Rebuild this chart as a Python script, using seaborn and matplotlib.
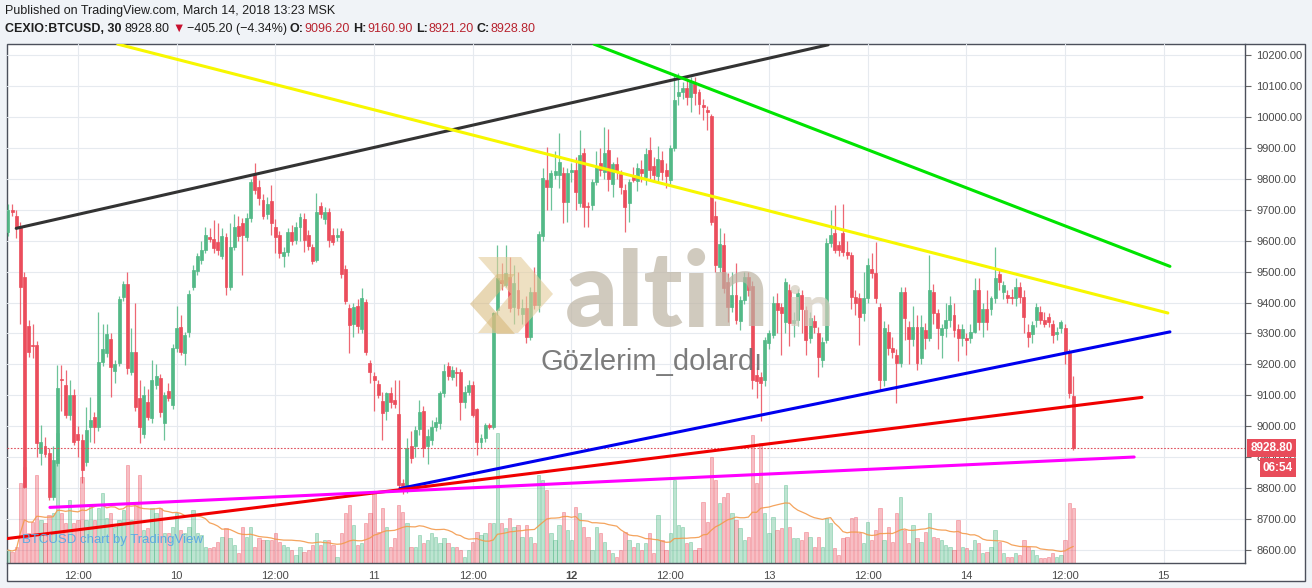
import numpy as np
import pandas as pd
import matplotlib
matplotlib.use("Agg")
import matplotlib.pyplot as plt
import matplotlib.transforms as mtransforms
from matplotlib.patches import Rectangle, Polygon
import seaborn as sns

# ---------------------------------------------------------------- data
start_time = "2018-03-09 03:30"   # first 30-min candle (MSK)

opens = [
    9629, 9701, 9680, 9645, 9483, 9324, 9262, 9262, 8912, 8936,
    8912, 8771, 8880, 9154, 9133, 9036, 9100, 8974, 8955, 8885,
    8998, 9028, 8998, 9208, 9235, 9281, 9179, 9205, 9417, 9460,
    9176, 9239, 9090, 8976, 9079, 9026, 9133, 9156, 9011, 9113,
    9068, 9252, 9322, 9237, 9303, 9451, 9503, 9537, 9570, 9612,
    9605, 9595, 9550, 9612, 9450, 9580, 9648, 9657, 9611, 9673,
    9815, 9775, 9733, 9686, 9729, 9645, 9618, 9550, 9564, 9629,
    9602, 9645, 9669, 9618, 9580, 9537, 9712, 9669, 9694, 9618,
    9613, 9631, 9507, 9381, 9332, 9388, 9313, 9401, 9205, 9162,
    9136, 9082, 9050, 9108, 9084, 9038, 8817, 8806, 8937, 8935,
    8990, 9049, 8935, 8955, 8998, 9011, 9106, 9196, 9160, 9176,
    9176, 9079, 9111, 9133, 9054, 8950, 8960, 9004, 8998, 9375,
    9473, 9457, 9484, 9387, 9440, 9363, 9381, 9289, 9435, 9392,
    9614, 9796, 9773, 9813, 9813, 9818, 9726, 9821, 9829, 9721,
    9883, 9712, 9715, 9791, 9852, 9823, 9893, 9783, 9848, 9816,
    9764, 9723, 9812, 9794, 9831, 9807, 9893, 9842, 9809, 9861,
    9829, 9796, 9899, 10068, 10080, 10093, 10064, 10109, 10080, 10040,
    10023, 10003, 9680, 9516, 9586, 9467, 9386, 9424, 9341, 9408,
    9484, 9455, 9165, 9160, 9148, 9268, 9295, 9397, 9386, 9338,
    9440, 9335, 9343, 9424, 9375, 9285, 9340, 9300, 9214, 9278,
    9591, 9624, 9586, 9624, 9564, 9554, 9419, 9413, 9365, 9413,
    9510, 9494, 9386, 9149, 9305, 9252, 9230, 9203, 9435, 9322,
    9281, 9322, 9219, 9311, 9286, 9435, 9367, 9295, 9316, 9343,
    9359, 9313, 9284, 9284, 9284, 9305, 9440, 9338, 9378, 9378,
    9413, 9491, 9435, 9424, 9418, 9413, 9451, 9419, 9305, 9298,
    9343, 9370, 9343, 9352, 9332, 9298, 9316, 9316, 9235, 9096.2,
]
highs = [
    9720, 9720, 9700, 9660, 9500, 9343, 9330, 9275, 9003, 8965,
    8930, 8935, 9198, 9198, 9180, 9150, 9120, 9000, 8975, 9063,
    9095, 9045, 9370, 9330, 9332, 9300, 9215, 9420, 9470, 9500,
    9316, 9397, 9150, 9130, 9120, 9215, 9200, 9170, 9110, 9140,
    9265, 9390, 9360, 9305, 9440, 9520, 9560, 9600, 9645, 9640,
    9667, 9656, 9640, 9625, 9656, 9688, 9680, 9675, 9690, 9800,
    9850, 9796, 9750, 9740, 9780, 9669, 9630, 9580, 9640, 9650,
    9660, 9690, 9690, 9635, 9590, 9753, 9726, 9710, 9705, 9640,
    9640, 9640, 9520, 9395, 9400, 9410, 9446, 9410, 9215, 9175,
    9150, 9110, 9110, 9125, 9149, 9149, 8830, 8960, 8985, 9000,
    9084, 9065, 8990, 9020, 9030, 9115, 9200, 9208, 9195, 9190,
    9185, 9130, 9150, 9145, 9060, 8975, 9010, 9010, 9370, 9586,
    9527, 9586, 9548, 9520, 9500, 9410, 9420, 9450, 9515, 9630,
    9835, 9904, 9830, 9890, 9947, 9840, 9835, 9850, 9870, 9958,
    9900, 9725, 9800, 9890, 9900, 9969, 9960, 9855, 9870, 9830,
    9785, 9800, 9840, 9850, 9860, 9900, 9937, 9870, 9905, 9890,
    9850, 9910, 10136, 10142, 10115, 10125, 10130, 10130, 10090, 10060,
    10035, 10010, 9730, 9640, 9624, 9494, 9500, 9527, 9420, 9500,
    9500, 9470, 9190, 9175, 9290, 9310, 9420, 9430, 9400, 9480,
    9460, 9370, 9445, 9440, 9390, 9370, 9360, 9320, 9290, 9610,
    9700, 9715, 9600, 9720, 9600, 9565, 9440, 9430, 9500, 9545,
    9560, 9597, 9400, 9340, 9330, 9290, 9250, 9450, 9450, 9340,
    9390, 9360, 9360, 9335, 9554, 9460, 9380, 9330, 9400, 9420,
    9400, 9330, 9330, 9300, 9330, 9480, 9480, 9400, 9440, 9420,
    9580, 9510, 9470, 9440, 9445, 9480, 9465, 9440, 9330, 9340,
    9400, 9390, 9370, 9365, 9345, 9320, 9345, 9330, 9250, 9160.9,
]
lows = [
    9615, 9680, 9608, 9332, 8800, 9225, 9220, 8901, 8874, 8900,
    8760, 8760, 8870, 9050, 9025, 9020, 8940, 8900, 8815, 8870,
    8950, 8945, 8985, 9195, 9225, 9095, 9140, 9195, 9405, 9170,
    9165, 9050, 8945, 8960, 9020, 9010, 9120, 9030, 8955, 9080,
    9055, 9240, 9230, 9198, 9290, 9440, 9490, 9525, 9560, 9595,
    9560, 9555, 9540, 9424, 9440, 9570, 9600, 9490, 9600, 9660,
    9750, 9715, 9670, 9670, 9618, 9559, 9545, 9516, 9550, 9585,
    9590, 9600, 9564, 9570, 9525, 9530, 9675, 9655, 9580, 9585,
    9600, 9480, 9395, 9235, 9290, 9300, 9300, 9230, 9140, 9050,
    9090, 8955, 9020, 9060, 9060, 8800, 8780, 8782, 8880, 8900,
    8970, 8900, 8879, 8940, 8985, 8990, 9095, 9150, 9150, 9130,
    9020, 9060, 9100, 9030, 8906, 8930, 8950, 8990, 8990, 9360,
    9440, 9450, 9370, 9330, 9360, 9330, 9268, 9280, 9380, 9370,
    9600, 9700, 9700, 9800, 9770, 9656, 9660, 9790, 9700, 9710,
    9645, 9645, 9700, 9780, 9810, 9800, 9760, 9740, 9800, 9750,
    9629, 9660, 9790, 9760, 9790, 9780, 9800, 9790, 9790, 9795,
    9770, 9780, 9890, 10040, 10060, 10040, 10018, 10040, 10010, 9990,
    9958, 9650, 9500, 9500, 9430, 9338, 9370, 9330, 9310, 9395,
    9420, 9120, 9090, 9015, 9130, 9250, 9285, 9300, 9230, 9300,
    9260, 9290, 9325, 9300, 9230, 9270, 9300, 9160, 9190, 9270,
    9580, 9560, 9550, 9550, 9540, 9380, 9360, 9262, 9340, 9400,
    9480, 9400, 9117, 9130, 9230, 9220, 9074, 9190, 9280, 9200,
    9260, 9180, 9200, 9250, 9275, 9330, 9250, 9220, 9290, 9320,
    9290, 9210, 9260, 9230, 9270, 9300, 9310, 9290, 9310, 9360,
    9400, 9440, 9410, 9400, 9395, 9390, 9400, 9300, 9257, 9270,
    9320, 9330, 9320, 9320, 9270, 9280, 9300, 9200, 9090, 8921.2,
]
closes = [
    9699, 9692, 9645, 9451, 8804, 9241, 9258, 8944, 8949, 8910,
    8771, 8890, 9122, 9149, 9036, 9100, 8949, 8955, 8858, 8987,
    9020, 8998, 9208, 9248, 9298, 9190, 9201, 9411, 9460, 9187,
    9239, 9063, 8998, 9100, 9030, 9149, 9163, 9047, 9100, 9090,
    9252, 9316, 9241, 9295, 9426, 9505, 9550, 9570, 9618, 9605,
    9575, 9570, 9614, 9451, 9580, 9645, 9615, 9618, 9672, 9791,
    9764, 9737, 9680, 9720, 9656, 9613, 9559, 9564, 9629, 9599,
    9645, 9677, 9602, 9583, 9535, 9694, 9688, 9694, 9602, 9597,
    9620, 9491, 9406, 9327, 9386, 9324, 9416, 9241, 9176, 9149,
    9100, 9041, 9106, 9079, 9071, 8809, 8806, 8930, 8898, 8987,
    9047, 8928, 8968, 8998, 9014, 9106, 9179, 9162, 9181, 9171,
    9079, 9111, 9133, 9036, 8950, 8960, 9004, 8998, 9365, 9478,
    9464, 9494, 9381, 9462, 9381, 9381, 9289, 9435, 9392, 9622,
    9802, 9773, 9818, 9824, 9856, 9726, 9818, 9829, 9759, 9877,
    9710, 9710, 9791, 9840, 9829, 9883, 9799, 9848, 9827, 9775,
    9710, 9791, 9798, 9834, 9818, 9879, 9829, 9812, 9863, 9823,
    9809, 9899, 10055, 10082, 10093, 10066, 10115, 10077, 10044, 10032,
    10018, 9661, 9521, 9589, 9446, 9386, 9424, 9343, 9408, 9484,
    9440, 9150, 9145, 9140, 9278, 9300, 9397, 9376, 9365, 9467,
    9335, 9345, 9430, 9380, 9280, 9350, 9322, 9225, 9273, 9591,
    9618, 9570, 9570, 9564, 9554, 9419, 9397, 9354, 9413, 9521,
    9494, 9413, 9149, 9316, 9252, 9241, 9203, 9435, 9349, 9281,
    9322, 9205, 9322, 9286, 9442, 9367, 9316, 9316, 9343, 9392,
    9311, 9284, 9313, 9278, 9305, 9440, 9338, 9378, 9338, 9413,
    9478, 9467, 9456, 9413, 9413, 9451, 9419, 9352, 9287, 9327,
    9386, 9345, 9332, 9338, 9295, 9305, 9338, 9235, 9106, 8928.8,
]
volume = [
    13, 11, 16, 80, 96, 30, 41, 88, 43, 40,
    48, 50, 130, 50, 40, 63, 40, 43, 86, 43,
    58, 43, 55, 70, 45, 50, 36, 43, 53, 98,
    43, 60, 88, 33, 35, 55, 50, 55, 30, 30,
    36, 50, 33, 30, 36, 53, 30, 28, 16, 15,
    16, 21, 26, 35, 25, 18, 10, 36, 26, 36,
    16, 25, 23, 23, 23, 30, 21, 18, 16, 13,
    8, 16, 11, 13, 18, 30, 18, 23, 23, 18,
    6, 30, 50, 58, 38, 18, 20, 40, 50, 70,
    31, 55, 36, 16, 25, 58, 51, 40, 16, 16,
    28, 20, 23, 30, 26, 20, 25, 20, 16, 16,
    13, 6, 13, 21, 31, 28, 30, 40, 40, 130,
    40, 35, 45, 36, 38, 26, 38, 26, 20, 88,
    83, 73, 30, 23, 38, 51, 33, 23, 56, 50,
    36, 26, 13, 36, 30, 21, 13, 10, 6, 13,
    31, 23, 16, 20, 13, 20, 30, 10, 48, 23,
    13, 30, 83, 38, 36, 20, 21, 13, 15, 61,
    41, 106, 83, 60, 66, 70, 50, 43, 35, 23,
    26, 128, 80, 120, 50, 30, 46, 33, 35, 78,
    36, 25, 25, 23, 31, 26, 16, 26, 16, 45,
    40, 15, 8, 25, 26, 45, 46, 30, 20, 41,
    23, 33, 55, 23, 36, 21, 50, 66, 33, 20,
    38, 25, 21, 31, 50, 26, 25, 23, 18, 16,
    13, 43, 16, 15, 13, 23, 20, 10, 11, 16,
    33, 21, 10, 6, 6, 10, 8, 23, 16, 13,
    8, 5, 5, 6, 10, 6, 8, 23, 60, 55,
]
price_ticks = [8600, 8700, 8800, 8900, 9000, 9100, 9200, 9300, 9400,
               9500, 9600, 9700, 9800, 9900, 10000, 10100, 10200]
prev_ref_close = 9334.0
countdown = "06:54"
symbol = "CEXIO:BTCUSD, 30"
published = "Published on TradingView.com, March 14, 2018 13:23 MSK"

# hand-drawn trend lines: (bar offset, price) endpoints
line_names = ["black", "yellow", "green", "blue", "red", "magenta"]
line_colors = ["#333333", "#f7f700", "#00e400", "#0000ee", "#f00000", "#ff00ff"]
line_x0 = [2.0, 26.7, 142.5, 95.3, -0.24, 10.2]
line_p0 = [9640, 10236, 10236, 8798, 8636, 8737]
line_x1 = [199.4, 282.0, 282.5, 282.5, 275.7, 273.8]
line_p1 = [10234, 9366, 9517, 9305, 9093, 8900]

# ---------------------------------------------------------------- style
sns.set_theme(style="white")
plt.rcParams["font.family"] = ["Liberation Sans", "DejaVu Sans"]

W, H = 1312, 588
UP, DOWN = "#53b987", "#eb4d5c"
TXT = "#4a4a4a"
FRAME = "#4c505b"

n = len(closes)
x = np.arange(n)
df = pd.DataFrame({"x": x, "open": opens, "high": highs, "low": lows,
                   "close": closes, "volume": volume})
df["up"] = df["close"] >= df["open"]
df["vol_ma"] = df["volume"].rolling(20, min_periods=1).mean()
colors = np.where(df["up"], UP, DOWN)

XLIM = (-0.24, 300.75)
YLIM = (8557, 10236.6)

fig = plt.figure(figsize=(W / 100, H / 100), dpi=100, facecolor="#f0f3f7")
fig.patches.append(Rectangle((7 / W, 1 - 581 / H), 1298 / W, 537 / H,
                             transform=fig.transFigure, facecolor="white",
                             edgecolor=FRAME, linewidth=1.0, zorder=0))

rect = [7 / W, 1 - 563 / H, (1245 - 7) / W, (563 - 44) / H]
ax_grid = fig.add_axes(rect, zorder=1)
ax_vol = fig.add_axes(rect, zorder=2)
ax = fig.add_axes(rect, zorder=3)
ax_over = fig.add_axes([0, 0, 1, 1], zorder=4)

# time ticks
ext = pd.date_range(start_time, periods=int(XLIM[1]) + 2, freq="30min")
tick_idx, tick_lab, tick_bold = [], [], []
for i, t in enumerate(ext):
    if t.minute == 0 and t.hour in (0, 12):
        tick_idx.append(i)
        tick_lab.append("12:00" if t.hour == 12 else str(t.day))
        tick_bold.append(t.hour == 0 and t.dayofweek == 0)

# grid layer
for a in (ax_grid, ax_vol, ax):
    a.set_xlim(*XLIM)
    a.set_facecolor("none")
ax_grid.set_ylim(*YLIM)
for p in price_ticks:
    ax_grid.axhline(p, color="#e6eaef", lw=0.8)
for t in tick_idx:
    ax_grid.axvline(t, color="#e6eaef", lw=0.8)
ax_grid.axis("off")

# volume layer
vol_face = [(0.325, 0.725, 0.53, 0.38) if u else (0.92, 0.30, 0.36, 0.36) for u in df["up"]]
vol_edge = [(0.325, 0.725, 0.53, 0.55) if u else (0.92, 0.30, 0.36, 0.5) for u in df["up"]]
ax_vol.bar(df["x"], df["volume"], width=0.8, color=vol_face, edgecolor=vol_edge, linewidth=0.5)
sns.lineplot(data=df, x="x", y="vol_ma", ax=ax_vol, color="#f39a4c", lw=0.9, alpha=0.9)
ax_vol.set_xlim(*XLIM)
ax_vol.set_ylim(0, max(volume) * 4.0)
ax_vol.axis("off")

# candles
ax.vlines(df["x"], df["low"], df["high"], colors=colors, lw=0.9, alpha=0.85, zorder=2)
body_lo = np.minimum(df["open"], df["close"])
body_h = np.abs(df["close"] - df["open"])
ax.bar(df["x"], body_h, bottom=body_lo, width=0.72, color=colors,
       edgecolor=colors, linewidth=0.5, zorder=3)

# trend lines
rows = []
for nm, x0, p0, x1, p1 in zip(line_names, line_x0, line_p0, line_x1, line_p1):
    rows.append({"name": nm, "x": x0, "price": p0})
    rows.append({"name": nm, "x": x1, "price": p1})
lines_df = pd.DataFrame(rows)
sns.lineplot(data=lines_df, x="x", y="price", hue="name", units="name", estimator=None,
             palette=dict(zip(line_names, line_colors)), lw=2.2, legend=False,
             ax=ax, zorder=5, sort=False)

last_price = closes[-1]
ax.axhline(last_price, color="#e0505d", lw=0.8, ls=(0, (1.5, 1.5)), zorder=4)

ax.set_xlim(*XLIM)
ax.set_ylim(*YLIM)
ax.set_xlabel("")
ax.set_ylabel("")
ax.yaxis.tick_right()
ax.set_yticks(price_ticks)
ax.set_yticklabels([f"{p:.2f}" for p in price_ticks])
ax.set_xticks(tick_idx)
ax.set_xticklabels(tick_lab)
for lbl, b in zip(ax.get_xticklabels(), tick_bold):
    if b:
        lbl.set_fontweight("bold")
ax.tick_params(axis="y", length=4, width=0.8, color="#666", labelsize=8,
               labelcolor=TXT, pad=4, left=False, right=True)
ax.tick_params(axis="x", length=3, width=0.8, color="#666", labelsize=8,
               labelcolor=TXT, pad=3)
for s in ("top", "left"):
    ax.spines[s].set_visible(False)
for s in ("right", "bottom"):
    ax.spines[s].set_visible(True)
    ax.spines[s].set_color(FRAME)
    ax.spines[s].set_linewidth(1.0)

# last price tag + countdown
blend = mtransforms.blended_transform_factory(ax.transAxes, ax.transData)
ptxt = ax.text(1.0045, last_price, f"{last_price:.2f}", transform=blend, ha="left",
               va="center", color="white", fontsize=8.5, fontweight="bold", zorder=10,
               bbox=dict(boxstyle="square,pad=0.28", fc="#e84c5a", ec="none"), clip_on=False)
ax.annotate(countdown, xy=(1, 0), xycoords=ptxt, xytext=(0, -5.5), textcoords="offset points",
            ha="right", va="top", color="white", fontsize=8.5, fontweight="bold",
            bbox=dict(boxstyle="square,pad=0.28", fc="#e84c5a", ec="none"),
            annotation_clip=False, zorder=10)

# ---------------------------------------------------------------- overlay (pixel coords)
ax_over.set_xlim(0, W)
ax_over.set_ylim(H, 0)
ax_over.axis("off")
ax_over.patch.set_alpha(0)

# watermark logo
ax_over.add_patch(Polygon([(478, 257), (521, 257), (553, 294), (518, 333), (478, 333), (511, 294)],
                          closed=True, fc="#e4cc9a", ec="none", alpha=0.6))
ax_over.add_patch(Polygon([(470, 304), (497, 274), (515, 274), (489, 304), (515, 334), (497, 334)],
                          closed=True, fc="#d6b676", ec="none", alpha=0.55))
ax_over.text(565, 326, "altin", fontsize=75, fontweight="black", family=["Lato", "DejaVu Sans"],
             color="#bdb4a3", alpha=0.7, va="baseline", ha="left")
ax_over.text(787, 326, "in", fontsize=40, fontweight="black", family=["Lato", "DejaVu Sans"],
             color="#d4ccbd", alpha=0.7, va="baseline", ha="left")
ax_over.text(540, 362, "Gözlerim_dolardı", fontsize=21, color="#6e6e6e", alpha=0.9,
             va="center", ha="left")
ax_over.text(22, 540, "BTCUSD chart by TradingView", fontsize=9.5, color="#5ea9e3",
             va="center", ha="left")

# header
HDR = 9.0
ax_over.text(5, 11, published, fontsize=HDR, color="#1e1e1e", va="center", ha="left")
chg = last_price - prev_ref_close
RED = "#b8232f"
pieces = [
    (symbol, "bold", "#1e1e1e", 0),
    (f"{last_price:.2f}", "normal", "#1e1e1e", 2.5),
    ("\u25BC", "normal", "#c8102e", 1.5),
    (f"\u2212{abs(chg):.2f} (\u2212{abs(chg) / prev_ref_close * 100:.2f}%)", "normal", "#1e1e1e", 1.5),
    ("O:", "bold", "#1e1e1e", 2.5), (f"{opens[-1]:.2f}", "normal", RED, 0.3),
    ("H:", "bold", "#1e1e1e", 2.5), (f"{highs[-1]:.2f}", "normal", RED, 0.3),
    ("L:", "bold", "#1e1e1e", 2.5), (f"{lows[-1]:.2f}", "normal", RED, 0.3),
    ("C:", "bold", "#1e1e1e", 2.5), (f"{closes[-1]:.2f}", "normal", RED, 0.3),
]
prev = None
for txt, wt, col, gap in pieces:
    if prev is None:
        prev = ax_over.text(5, 29, txt, fontsize=HDR, fontweight=wt, color=col,
                            va="center", ha="left")
    else:
        prev = ax_over.annotate(txt, xy=(1, 0), xycoords=prev, xytext=(gap, 0),
                                textcoords="offset points", fontsize=HDR, fontweight=wt,
                                color=col, va="bottom", ha="left")

fig.savefig("out.png", dpi=100, facecolor=fig.get_facecolor())
